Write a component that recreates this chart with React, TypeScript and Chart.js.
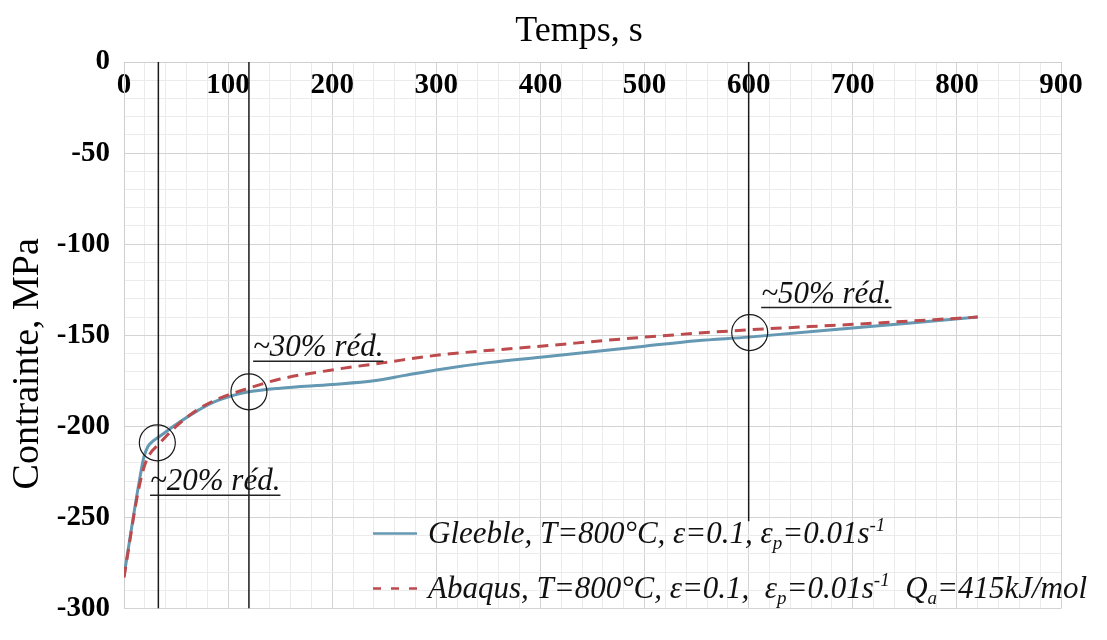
import React, { useEffect, useRef } from 'react';
import { Chart, registerables } from 'chart.js';

Chart.register(...registerables);

// ---- Data ----
const gleebleTime = [0, 5, 10, 15, 19, 23, 28, 33, 50, 66, 85, 105, 120, 150, 200, 240, 270, 300, 350, 400, 450, 500, 550, 600, 700, 820];
const gleebleStress = [-282, -264, -246, -229, -217, -211, -208, -206, -199, -193, -187, -183, -181, -179, -177, -175, -172, -169, -165, -162, -159, -156, -153, -151, -146, -140];

const abaqusTime = [0, 5, 10, 15, 20, 25, 33, 50, 70, 90, 120, 150, 200, 250, 300, 400, 500, 600, 700, 820];
const abaqusStress = [-283, -265, -247, -232, -221, -215, -210, -200, -191, -185, -179, -174, -169, -165, -161, -156, -151, -147, -144, -140];

const markerTimes = [33, 120, 600];
const markerTop = [0, 0, 0];
const markerBottom = [-300, -300, -252];

const circleTimes = [32, 120, 601];
const circleStress = [-209, -181, -148.5];

const annotationLabels = ['~20% réd.', '~30% réd.', '~50% réd.'];
const annotationTimes = [25, 124, 612];
const annotationStress = [-235, -161.5, -132];

const xTickValues = [0, 100, 200, 300, 400, 500, 600, 700, 800, 900];
const yTickValues = [0, -50, -100, -150, -200, -250, -300];

const xTitle = 'Temps, s';
const yTitle = 'Contrainte, MPa';

type Run = { t: string; k: 'n' | 'sub' | 'sup' };
const legendGleeble: Run[] = [
  { t: 'Gleeble, T=800°C, ε=0.1, ε', k: 'n' },
  { t: 'p', k: 'sub' },
  { t: '=0.01s', k: 'n' },
  { t: '-1', k: 'sup' },
];
const legendAbaqus: Run[] = [
  { t: 'Abaqus, T=800°C, ε=0.1,  ε', k: 'n' },
  { t: 'p', k: 'sub' },
  { t: '=0.01s', k: 'n' },
  { t: '-1', k: 'sup' },
  { t: '  Q', k: 'n' },
  { t: 'a', k: 'sub' },
  { t: '=415kJ/mol', k: 'n' },
];

const SERIF = '"Liberation Serif", "Times New Roman", serif';
const BLUE = '#6598b2';
const RED = '#bd4a4d';
const INK = '#1a1a1a';
const NB = '\u00A0';

function drawRuns(ctx: CanvasRenderingContext2D, runs: Run[], x: number, y: number, size: number) {
  let cx = x;
  for (const r of runs) {
    const s = r.k === 'n' ? size : Math.round(size * 0.62);
    ctx.font = `italic ${s}px ${SERIF}`;
    const dy = r.k === 'sub' ? size * 0.2 : r.k === 'sup' ? -size * 0.38 : 0;
    ctx.fillText(r.t, cx, y + dy);
    cx += ctx.measureText(r.t).width;
  }
}

const overlayPlugin = {
  id: 'overlay',
  afterDatasetsDraw(chart: any) {
    const ctx: CanvasRenderingContext2D = chart.ctx;
    const xs = chart.scales.x;
    const ys = chart.scales.y;
    const area = chart.chartArea;
    ctx.save();
    ctx.fillStyle = '#111';
    ctx.textAlign = 'left';
    ctx.textBaseline = 'alphabetic';
    // annotations
    annotationLabels.forEach((t, i) => {
      const px = xs.getPixelForValue(annotationTimes[i]);
      const py = ys.getPixelForValue(annotationStress[i]);
      ctx.font = `italic 31px ${SERIF}`;
      ctx.fillText(t, px, py);
      const w = ctx.measureText(t).width;
      ctx.beginPath();
      ctx.moveTo(px, py + 5);
      ctx.lineTo(px + w, py + 5);
      ctx.lineWidth = 1.5;
      ctx.strokeStyle = '#222';
      ctx.stroke();
    });
    // legend
    const lx = area.left + 249;
    const row1 = area.bottom - 75;
    const row2 = area.bottom - 20;
    ctx.lineWidth = 2.5;
    ctx.strokeStyle = BLUE;
    ctx.setLineDash([]);
    ctx.beginPath();
    ctx.moveTo(lx, row1);
    ctx.lineTo(lx + 44, row1);
    ctx.stroke();
    ctx.strokeStyle = RED;
    ctx.setLineDash([8, 10]);
    ctx.beginPath();
    ctx.moveTo(lx, row2);
    ctx.lineTo(lx + 44, row2);
    ctx.stroke();
    ctx.setLineDash([]);
    ctx.fillStyle = '#111';
    drawRuns(ctx, legendGleeble, lx + 55, row1 + 9, 31);
    drawRuns(ctx, legendAbaqus, lx + 55, row2 + 9, 31);
    ctx.restore();
  },
};

export default function App() {
  const ref = useRef<HTMLCanvasElement | null>(null);
  useEffect(() => {
    document.body.style.margin = '0';
    const canvas = ref.current;
    if (!canvas) return;
    const datasets: any[] = [];
    circleTimes.forEach((t, i) => {
      datasets.push({
        label: 'circle' + i,
        type: 'scatter',
        data: [{ x: t, y: circleStress[i] }],
        pointRadius: 18,
        pointHoverRadius: 18,
        pointStyle: 'circle',
        backgroundColor: 'rgba(0,0,0,0)',
        borderColor: INK,
        pointBorderWidth: 1.2,
        showLine: false,
      });
    });
    markerTimes.forEach((t, i) => {
      datasets.push({
        label: 'marker' + i,
        type: 'line',
        data: [{ x: t, y: markerTop[i] }, { x: t, y: markerBottom[i] }],
        borderColor: INK,
        borderWidth: 1.5,
        pointRadius: 0,
        fill: false,
      });
    });
    datasets.push({
      label: 'Abaqus',
      type: 'line',
      data: abaqusTime.map((t, i) => ({ x: t, y: abaqusStress[i] })),
      borderColor: RED,
      borderWidth: 3,
      borderDash: [11, 7],
      pointRadius: 0,
      cubicInterpolationMode: 'monotone',
      fill: false,
    });
    datasets.push({
      label: 'Gleeble',
      type: 'line',
      data: gleebleTime.map((t, i) => ({ x: t, y: gleebleStress[i] })),
      borderColor: BLUE,
      borderWidth: 3,
      pointRadius: 0,
      cubicInterpolationMode: 'monotone',
      fill: false,
    });

    const chart = new Chart(canvas, {
      type: 'line',
      data: { datasets },
      plugins: [overlayPlugin],
      options: {
        animation: false,
        responsive: false,
        devicePixelRatio: 1,
        layout: { padding: { left: 0, top: 0, right: 46, bottom: 2 } },
        plugins: { legend: { display: false }, tooltip: { enabled: false }, title: { display: false } },
        scales: {
          x: {
            type: 'linear',
            position: 'top',
            min: 0,
            max: 900,
            afterFit: (s: any) => { s.height = 62; },
            ticks: {
              stepSize: 20,
              autoSkip: false,
              maxRotation: 0,
              mirror: true,
              padding: 6,
              color: '#000',
              font: { family: SERIF, size: 29, weight: 'bold' },
              callback: (v: any) => (xTickValues.includes(Number(v)) ? String(v) : ''),
            },
            grid: {
              drawTicks: false,
              color: (c: any) => (c.tick && Math.abs(c.tick.value % 100) < 1e-6 ? '#d3d3d3' : '#ebebeb'),
              lineWidth: 1,
            },
            border: { display: true, color: '#cfcfcf' },
            title: {
              display: true,
              text: xTitle + NB + NB + NB,
              color: '#000',
              font: { family: SERIF, size: 36, lineHeight: 1 },
              padding: { top: 14, bottom: 0 },
            },
          },
          y: {
            type: 'linear',
            position: 'left',
            min: -300,
            max: 0,
            afterFit: (s: any) => { s.width = 124; },
            ticks: {
              stepSize: 10,
              autoSkip: false,
              padding: 14,
              color: '#000',
              font: { family: SERIF, size: 29, weight: 'bold' },
              callback: (v: any) => (yTickValues.includes(Number(v)) ? String(v) : ''),
            },
            grid: {
              drawTicks: false,
              color: (c: any) => (c.tick && Math.abs(c.tick.value % 50) < 1e-6 ? '#d3d3d3' : '#ebebeb'),
              lineWidth: 1,
            },
            border: { display: true, color: '#cfcfcf' },
            title: {
              display: true,
              text: yTitle + NB + NB + NB + NB + NB + NB,
              color: '#000',
              font: { family: SERIF, size: 38, lineHeight: 1 },
              padding: { top: 9, bottom: 0 },
            },
          },
        },
      } as any,
    });
    return () => chart.destroy();
  }, []);

  return (
    <div style={{ width: 1107, height: 640, background: '#fff' }}>
      <canvas ref={ref} width={1107} height={640} style={{ display: 'block' }} />
    </div>
  );
}
